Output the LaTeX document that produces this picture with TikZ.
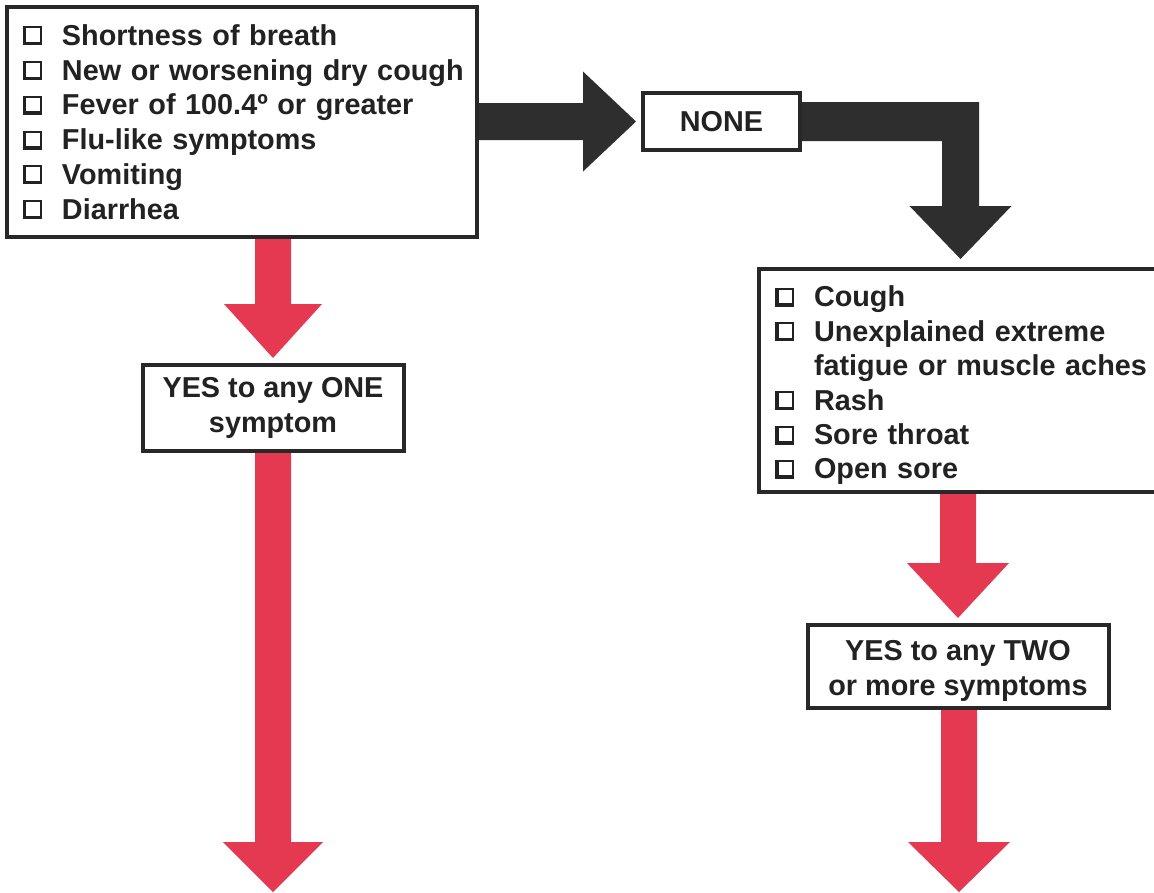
\documentclass[tikz,border=0pt]{standalone}
\usepackage{fontspec}
\setmainfont{Liberation Sans}
\usetikzlibrary{calc}
\definecolor{arrowred}{RGB}{229,57,82}
\definecolor{arrowdark}{RGB}{46,46,46}
\definecolor{boxline}{RGB}{40,40,40}
\definecolor{inktext}{RGB}{34,34,34}
\newcommand{\cbox}{\makebox[39pt][l]{%
  \rlap{\rule{3.5pt}{19pt}}%
  \rlap{\rule{19pt}{3.5pt}}%
  \rlap{\raisebox{17pt}{\rule{19pt}{2pt}}}%
  \rlap{\hspace{17pt}\rule{2pt}{19pt}}}}
\newcommand{\vblock}[5]{% style, start, tip, head length, head half width
  \fill[#1] let \p1=(#2), \p2=(#3) in
    (\x2-18pt,\y1) -- (\x2-18pt,\y2+#4) -- (\x2-#5,\y2+#4) -- (\x2,\y2)
    -- (\x2+#5,\y2+#4) -- (\x2+18pt,\y2+#4) -- (\x2+18pt,\y1) -- cycle;}
\tikzset{
  symbox/.style={draw=boxline, line width=4pt, fill=white, rectangle,
    text=inktext, font=\bfseries\fontsize{28.8}{34.8}\selectfont},
  listbox/.style={symbox, align=left, inner xsep=16pt, inner ysep=0pt},
  answerbox/.style={symbox, align=center, inner sep=0pt,
    font=\bfseries\fontsize{28.8}{35}\selectfont},
  plaintext/.style={text=inktext, inner sep=0pt,
    font=\bfseries\fontsize{28.8}{35}\selectfont},
}
\begin{document}
\begin{tikzpicture}[x=1pt,y=-1pt]
\path[use as bounding box] (0,0) rectangle (1154,892);
\clip (0,0) rectangle (1154,892);
\fill[white] (0,0) rectangle (1154,892);

% boxes
\node[listbox, text width=438pt, minimum height=230pt] (top) at (242,122) {%
\mbox{\cbox Shortness of breath}\\
\mbox{\cbox New or worsening dry cough}\\
\mbox{\cbox Fever of 100.4º or greater}\\
\mbox{\cbox Flu-like symptoms}\\
\mbox{\cbox Vomiting}\\
\mbox{\cbox Diarrhea}};

\node[answerbox, minimum width=157pt, minimum height=57pt] (none) at (721.5,121.5) {NONE};

\node[symbox, minimum width=412pt, minimum height=223pt] (rbox) at (965,380.5) {};
\node[plaintext, align=left, text width=380pt,
  font=\bfseries\fontsize{28.8}{34.4}\selectfont] (rtext) at ($(rbox.center)+(0,5)$) {%
\mbox{\cbox Cough}\\
\mbox{\cbox Unexplained extreme}\\
\mbox{\hspace*{39pt}fatigue or muscle aches}\\
\mbox{\cbox Rash}\\
\mbox{\cbox Sore throat}\\
\mbox{\cbox Open sore}};

\node[answerbox, minimum width=261pt, minimum height=86pt] (yes1) at (273,408)
  {YES to any ONE\\symptom};

\node[symbox, minimum width=301pt, minimum height=83pt] (yes2) at (958,666.5) {};
\node[plaintext, align=center] (yes2text) at ($(yes2.center)+(0,4)$)
  {YES to any TWO\\or more symptoms};

\coordinate (bottomA) at (273,892);
\coordinate (bottomB) at (959,892);
\coordinate (bend) at (960.5,122);

% dark arrow: top -> none
\fill[arrowdark] let \p1=(top.east |- none.west), \p2=($(none.west)+(-5,0)$) in
  (\x1,\y1+18.5pt) -- (\x2-53pt,\y1+18.5pt) -- (\x2-53pt,\y2+50pt) -- (\x2,\y2)
  -- (\x2-53pt,\y2-50pt) -- (\x2-53pt,\y1-18.5pt) -- (\x1,\y1-18.5pt) -- cycle;

% dark bent arrow: none -> rbox
\fill[arrowdark] let \p1=(none.east), \p2=($(bend |- rbox.north)+(0,-8)$) in
  (\x1,\y1+19.5pt) -- (\x2+18.5pt,\y1+19.5pt) -- (\x2+18.5pt,\y2+53pt)
  -- (\x2+51pt,\y2+53pt) -- (\x2,\y2) -- (\x2-51pt,\y2+53pt)
  -- (\x2-18.5pt,\y2+53pt) -- (\x2-18.5pt,\y1-19.5pt) -- (\x1,\y1-19.5pt) -- cycle;

% red arrows
\vblock{arrowred}{yes1.north |- top.south}{$(yes1.north)+(0,-5)$}{54pt}{49pt}
\vblock{arrowred}{yes1.south}{bottomA}{50pt}{50pt}
\vblock{arrowred}{yes2.north |- rbox.south}{$(yes2.north)+(0,-5)$}{55pt}{51pt}
\vblock{arrowred}{yes2.south}{bottomB}{50pt}{51pt}
\end{tikzpicture}
\end{document}
